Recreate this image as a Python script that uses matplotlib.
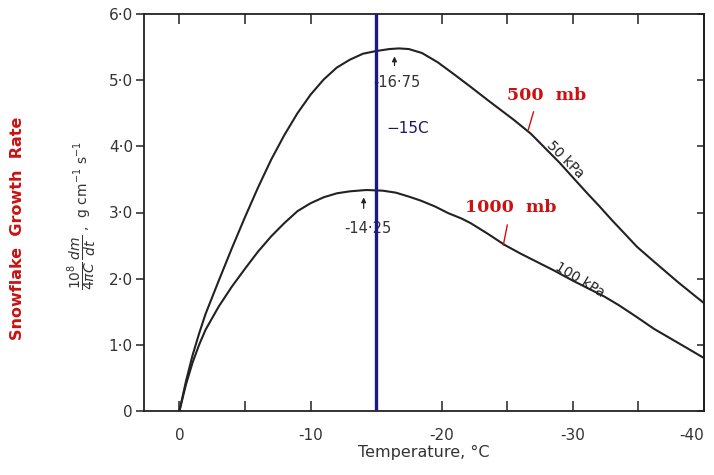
import matplotlib
matplotlib.use("Agg")
import matplotlib.pyplot as plt
from matplotlib.transforms import ScaledTranslation

t_50kpa = [0, -0.5, -1.0, -1.5, -2.0, -3.0, -4.0, -5.0, -6.0, -7.0, -8.0, -9.0,
           -10.0, -11.0, -12.0, -13.0, -14.0, -15.0, -16.0, -16.75, -17.5, -18.5,
           -19.7, -21.0, -22.2, -23.5, -24.5, -25.5, -26.8, -28.0, -29.0, -30.0,
           -31.1, -32.0, -33.0, -34.0, -34.9, -36.0, -37.0, -38.0, -39.0, -40.0]
g_50kpa = [0, 0.45, 0.84, 1.17, 1.47, 1.97, 2.46, 2.93, 3.38, 3.80, 4.17, 4.50,
           4.78, 5.01, 5.19, 5.31, 5.40, 5.44, 5.47, 5.48, 5.47, 5.41,
           5.27, 5.08, 4.90, 4.70, 4.55, 4.40, 4.19, 3.95, 3.75, 3.53,
           3.29, 3.10, 2.88, 2.67, 2.48, 2.29, 2.12, 1.95, 1.79, 1.63]

t_100kpa = [0, -0.5, -1.0, -1.5, -2.0, -3.0, -4.0, -5.0, -6.0, -7.0, -8.0, -9.0,
            -10.0, -11.0, -12.0, -13.0, -14.25, -15.5, -16.5, -17.5, -18.4, -19.5,
            -20.5, -21.5, -22.2, -23.5, -24.8, -26.0, -27.3, -28.5, -30.0, -31.2,
            -32.4, -33.5, -34.8, -36.2, -37.5, -38.8, -40.0]
g_100kpa = [0, 0.40, 0.73, 1.00, 1.23, 1.58, 1.88, 2.15, 2.41, 2.64, 2.84, 3.02,
            3.14, 3.23, 3.29, 3.32, 3.34, 3.33, 3.30, 3.24, 3.18, 3.09,
            2.99, 2.91, 2.84, 2.68, 2.51, 2.38, 2.25, 2.13, 1.97, 1.85,
            1.73, 1.60, 1.43, 1.24, 1.09, 0.94, 0.80]

x_major = [0, -10, -20, -30, -40]
x_minor = [-5, -15, -25, -35]
y_ticks = [0, 1, 2, 3, 4, 5, 6]
y_labels = ['0', '1·0', '2·0', '3·0', '4·0', '5·0', '6·0']
marker_temp = -15

W, H = 714, 475
fig = plt.figure(figsize=(W / 100, H / 100), dpi=100)
ax = fig.add_axes([144 / W, 1 - 411 / H, 560 / W, 397 / H])

ink = '#222222'
ax.plot(t_50kpa, g_50kpa, color=ink, lw=1.5)
ax.plot(t_100kpa, g_100kpa, color=ink, lw=1.5)
ax.axvline(marker_temp, color='#1a1a85', lw=2.4, zorder=5)

ax.set_xlim(2.7, -40)
ax.set_ylim(0, 6)

ax.set_xticks(x_major)
ax.set_xticklabels([str(v) for v in x_major])
ax.set_xticks(x_minor, minor=True)
ax.set_yticks(y_ticks)
ax.set_yticklabels(y_labels)

for s in ax.spines.values():
    s.set_color(ink)
    s.set_linewidth(1.3)

ax.tick_params(axis='x', which='both', direction='in', top=True, length=7,
               width=1.1, color=ink, pad=12, labelsize=11, labelcolor='#333333')
ax.tick_params(axis='y', direction='out', length=6, width=1.1, color=ink,
               pad=2, labelsize=11, labelcolor='#333333')
sec = ax.secondary_yaxis('right')
sec.set_yticks(y_ticks)
sec.set_yticklabels([])
sec.tick_params(direction='in', length=5, width=1.1, color=ink)
sec.spines['right'].set_linewidth(1.3)

# keep the last x label inside the figure
last = ax.get_xticklabels()[-1]
last.set_transform(last.get_transform() + ScaledTranslation(-12 / 100, 0, fig.dpi_scale_trans))

ax.set_xlabel('Temperature, °C', fontsize=11.5, color='#333333', labelpad=2)

# annotations
ax.annotate('', xy=(-16.4, 5.40), xytext=(-16.4, 5.18),
            arrowprops=dict(arrowstyle='-|>', color=ink, lw=0.9, mutation_scale=7))
ax.text(-14.8, 4.97, '-16·75', fontsize=10.5, color='#333333', ha='left', va='center')
ax.annotate('', xy=(-14.05, 3.27), xytext=(-14.05, 3.02),
            arrowprops=dict(arrowstyle='-|>', color=ink, lw=0.9, mutation_scale=7))
ax.text(-14.35, 2.76, '-14·25', fontsize=10.5, color='#333333', ha='center', va='center')
ax.text(-17.4, 4.27, '−15C', fontsize=11, color='#1a1a60', ha='center', va='center')

ax.text(-29.4, 3.80, '50 kPa', fontsize=10, color=ink, rotation=-45,
        ha='center', va='center')
ax.text(-30.5, 1.98, '100 kPa', fontsize=10, color=ink, rotation=-31,
        ha='center', va='center')

red = '#cc1111'
ax.text(-28.0, 4.77, '500  mb', fontsize=12.5, color=red, fontweight='bold',
        family='DejaVu Serif', ha='center', va='center')
ax.plot([-27.0, -26.6], [4.52, 4.25], color=red, lw=1)
ax.text(-25.3, 3.08, '1000  mb', fontsize=12.5, color=red, fontweight='bold',
        family='DejaVu Serif', ha='center', va='center')
ax.plot([-25.0, -24.7], [2.81, 2.51], color=red, lw=1)

fig.text(18 / W, 1 - 228 / H, 'Snowflake  Growth  Rate', rotation=90, color=red,
         fontsize=11.5, fontweight='bold', ha='center', va='center')
fig.text(82 / W, 1 - 216 / H,
         r'$\dfrac{10^8}{4\pi C}\,\dfrac{dm}{dt}$ ,  g cm$^{-1}$ s$^{-1}$',
         rotation=90, color='#333333', fontsize=10, ha='center', va='center')

fig.savefig('out.png', dpi=100)
